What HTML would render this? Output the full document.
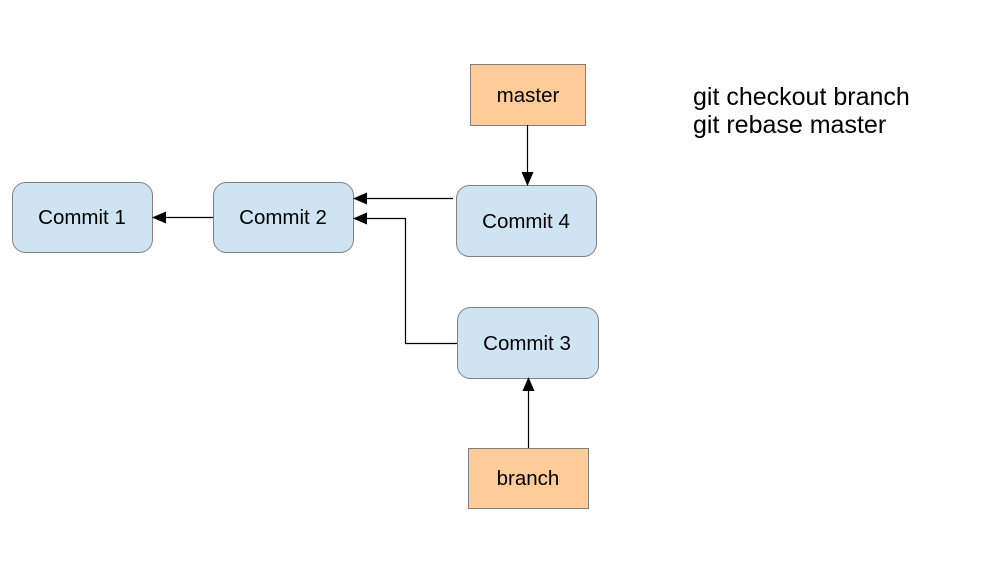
<!DOCTYPE html>
<html><head><style>
body{margin:0;width:984px;height:557px;background:#fff;overflow:hidden}
</style></head><body>
<svg width="984" height="557" xmlns="http://www.w3.org/2000/svg" font-family="Liberation Sans, sans-serif">
<defs><marker id="a" markerWidth="14" markerHeight="12" refX="13" refY="6" orient="auto" markerUnits="userSpaceOnUse"><path d="M0,0 L14,6 L0,12 z" fill="#000"/></marker></defs>
<g fill="#cfe4f2" stroke="#808080" stroke-width="1">
<rect x="12.5" y="182.5" width="140" height="70" rx="13"/>
<rect x="213.5" y="182.5" width="140" height="70" rx="13"/>
<rect x="456.5" y="185.5" width="140" height="71" rx="13"/>
<rect x="457.5" y="307.5" width="141" height="71" rx="13"/>
</g>
<g fill="#ffcc99" stroke="#808080">
<rect x="470.5" y="64.5" width="115" height="61"/>
<rect x="468.5" y="448.5" width="120" height="60"/>
</g>
<g font-size="20.5" text-anchor="middle" fill="#000">
<text x="82" y="224">Commit 1</text>
<text x="283" y="224">Commit 2</text>
<text x="526" y="228">Commit 4</text>
<text x="527" y="350">Commit 3</text>
<text x="528" y="102">master</text>
<text x="528" y="485">branch</text>
</g>
<g stroke="#000" stroke-width="1.2" fill="none">
<line x1="213" y1="217.5" x2="153" y2="217.5" marker-end="url(#a)"/>
<line x1="453" y1="198.5" x2="354" y2="198.5" marker-end="url(#a)"/>
<polyline points="457,343.5 405.5,343.5 405.5,218.5 354,218.5" marker-end="url(#a)"/>
<line x1="527.5" y1="125" x2="527.5" y2="185" marker-end="url(#a)"/>
<line x1="528.5" y1="448" x2="528.5" y2="378" marker-end="url(#a)"/>
</g>
<g font-size="25" fill="#000">
<text x="693" y="105">git checkout branch</text>
<text x="693" y="133">git rebase master</text>
</g>
</svg>
</body></html>
